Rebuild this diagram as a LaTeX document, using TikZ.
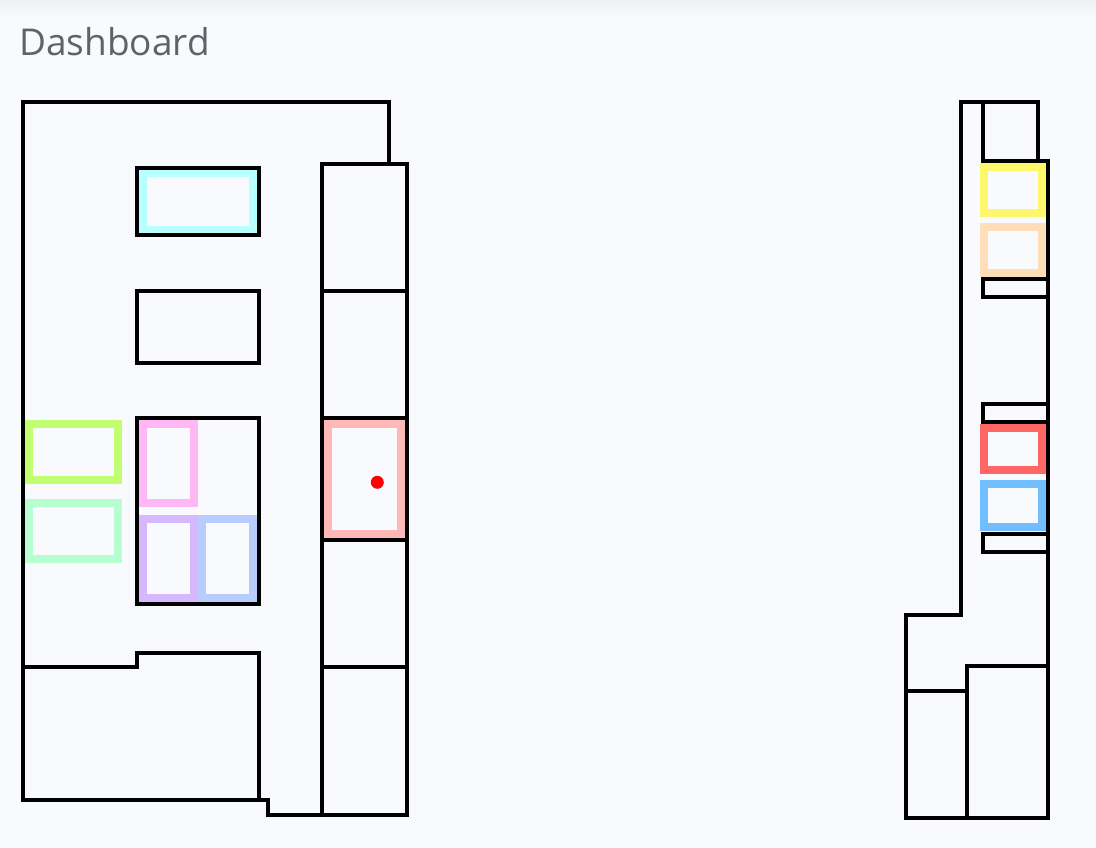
\documentclass[tikz,border=0pt]{standalone}
\usepackage{fontspec}
\setmainfont{Open Sans}
\definecolor{pagebg}{HTML}{F8FAFE}
\definecolor{topbar}{HTML}{EFF0F3}
\definecolor{titlegrey}{HTML}{5F6368}
\tikzset{
  wall/.style={draw=black,line width=4bp,line cap=rect,line join=miter},
  ring/.style={line width=8bp,line join=miter},
}
\begin{document}
\begin{tikzpicture}[x=1bp,y=-1bp]
\useasboundingbox (0,0) rectangle (1096,848);
\fill[pagebg] (0,0) rectangle (1096,848);
\shade[top color=topbar,bottom color=pagebg] (0,0) rectangle (1096,16);
\node[anchor=base west,inner sep=0pt,text=titlegrey,font=\fontsize{37bp}{40bp}\selectfont] (title) at (19,55.5) {Dashboard};

% left plan: rings
\draw[ring,draw={rgb,255:red,184;green,255;blue,255}] (143,172.5) rectangle (253,229.5);
\draw[ring,draw={rgb,255:red,193;green,255;blue,112}] (29,424) rectangle (118,480);
\draw[ring,draw={rgb,255:red,182;green,255;blue,208}] (29,503) rectangle (118,559);
\draw[ring,draw={rgb,255:red,255;green,184;blue,245}] (143,424) rectangle (194,503);
\draw[ring,draw={rgb,255:red,214;green,184;blue,255}] (143,519) rectangle (194,598);
\draw[ring,draw={rgb,255:red,184;green,204;blue,255}] (202,519) rectangle (253,598);
\draw[ring,draw={rgb,255:red,255;green,184;blue,184}] (328,424) rectangle (401,534);
\fill[red] (377.3,482.3) circle (6.5);

% left plan: walls
\draw[wall] (388.5,164) -- (388.5,102) -- (22.5,102) -- (22.5,799.5) -- (259,799.5) -- (259,653) -- (137,653) -- (137,666.5) -- (22.5,666.5);
\draw[wall] (259,799.5) -- (268,799.5) -- (268,815) -- (322,815);
\draw[wall] (137,168) rectangle (259,235);
\draw[wall] (137,291) rectangle (259,363);
\draw[wall] (137,418) rectangle (259,604);
\draw[wall] (322,164) rectangle (407,815);
\draw[wall] (322,291) -- (407,291);
\draw[wall] (322,418) -- (407,418);
\draw[wall] (322,540) -- (407,540);
\draw[wall] (322,666.5) -- (407,666.5);

% right plan: rings
\draw[ring,draw={rgb,255:red,255;green,247;blue,107}] (984,167) rectangle (1042,213);
\draw[ring,draw={rgb,255:red,255;green,221;blue,184}] (984,227) rectangle (1042,273);
\draw[ring,draw={rgb,255:red,255;green,102;blue,102}] (984,428) rectangle (1042,470);
\draw[ring,draw={rgb,255:red,112;green,189;blue,255}] (984,484) rectangle (1042,527);

% right plan: walls
\draw[wall] (982.5,161) -- (982.5,102) -- (960.5,102) -- (960.5,615) -- (905.5,615) -- (905.5,818) -- (1048,818) -- (1048,161) -- (982.5,161);
\draw[wall] (982.5,102) -- (1037.5,102) -- (1037.5,161);
\draw[wall] (982.5,279) rectangle (1048,297);
\draw[wall] (982.5,404) rectangle (1048,422);
\draw[wall] (982.5,534) rectangle (1048,552);
\draw[wall] (905.5,691) -- (966.5,691);
\draw[wall] (966.5,818) -- (966.5,666) -- (1048,666);
\end{tikzpicture}
\end{document}
